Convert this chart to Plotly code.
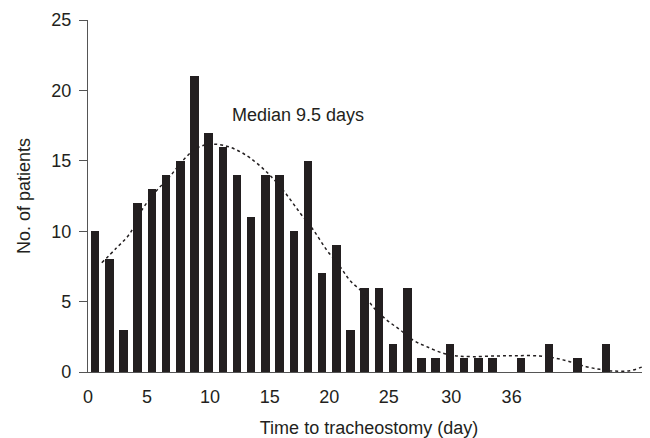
import plotly.graph_objects as go

days = list(range(37))
patients = [10, 8, 3, 12, 13, 14, 15, 21, 17, 16, 14, 11, 14, 14, 10, 15, 7, 9, 3,
            6, 6, 2, 6, 1, 1, 2, 1, 1, 1, 0, 1, 0, 2, 0, 1, 0, 2]

curve_x = [0.47, 1.5, 2.46, 3.29, 4.35, 5.28, 6.22, 7.16, 8.1, 9.04, 9.98, 10.92, 12.09,
           13.26, 14.44, 15.37, 16.32, 17.25, 17.96, 18.9, 19.6, 20.54, 21.48, 22.4,
           23.36, 24.53, 25.47, 26.64, 28.29, 29.7, 31.34, 32.5, 33.45, 34.6, 35.56,
           36.5, 37.68, 38.6, 39.08]
curve_y = [7.76, 8.8, 9.85, 11.5, 12.9, 13.9, 15.06, 15.9, 16.17, 16.1, 15.77, 15.2, 14.2,
           12.9, 11.3, 10.1, 8.67, 7.5, 6.5, 5.6, 4.6, 3.7, 3.0, 2.27,
           1.8, 1.33, 1.14, 1.09, 1.14, 1.16, 1.14, 0.97, 0.73, 0.38, 0.19,
           0.07, 0.09, 0.38, 0.6]

tick_labels = ["0", "5", "10", "15", "20", "25", "30", "36"]
tick_pos = [-0.5, 3.65, 8.1, 12.3, 16.5, 20.7, 25.1, 29.35]

fig = go.Figure()
fig.add_trace(go.Bar(x=days, y=patients, width=0.6,
                     marker=dict(color="#231f20", line=dict(width=0))))
fig.add_trace(go.Scatter(x=curve_x, y=curve_y, mode="lines",
                         line=dict(color="#231f20", width=1.5, dash="dot", shape="spline"),
                         cliponaxis=False))

fig.add_annotation(x=0.2527, xref="paper", y=18.25, yref="y", text="Median 9.5 days",
                   showarrow=False, xanchor="left", yanchor="middle",
                   font=dict(size=18, color="#231f20"))

fig.update_layout(
    width=642, height=430,
    margin=dict(l=80, r=0, t=12, b=66),
    paper_bgcolor="white", plot_bgcolor="white",
    showlegend=False, bargap=0,
    font=dict(family="Liberation Sans, Arial, sans-serif", color="#231f20", size=18),
    xaxis=dict(range=[-0.5, 39.1], tickmode="array", tickvals=tick_pos, ticktext=tick_labels,
               showgrid=False, zeroline=False, showline=True, linecolor="#555555", linewidth=1.2,
               ticks="", tickfont=dict(size=18), ticklabelstandoff=8,
               title=dict(text="Time to tracheostomy (day)", font=dict(size=18), standoff=15)),
    yaxis=dict(range=[0, 25], tickvals=[0, 5, 10, 15, 20, 25], showgrid=False, zeroline=False,
               showline=True, linecolor="#555555", linewidth=1.2, ticks="outside", ticklen=8,
               tickcolor="#555555", tickwidth=1.2, tickfont=dict(size=18), ticklabelstandoff=4,
               title=dict(text="No. of patients", font=dict(size=18), standoff=15)),
)

fig.write_html("out.html")
